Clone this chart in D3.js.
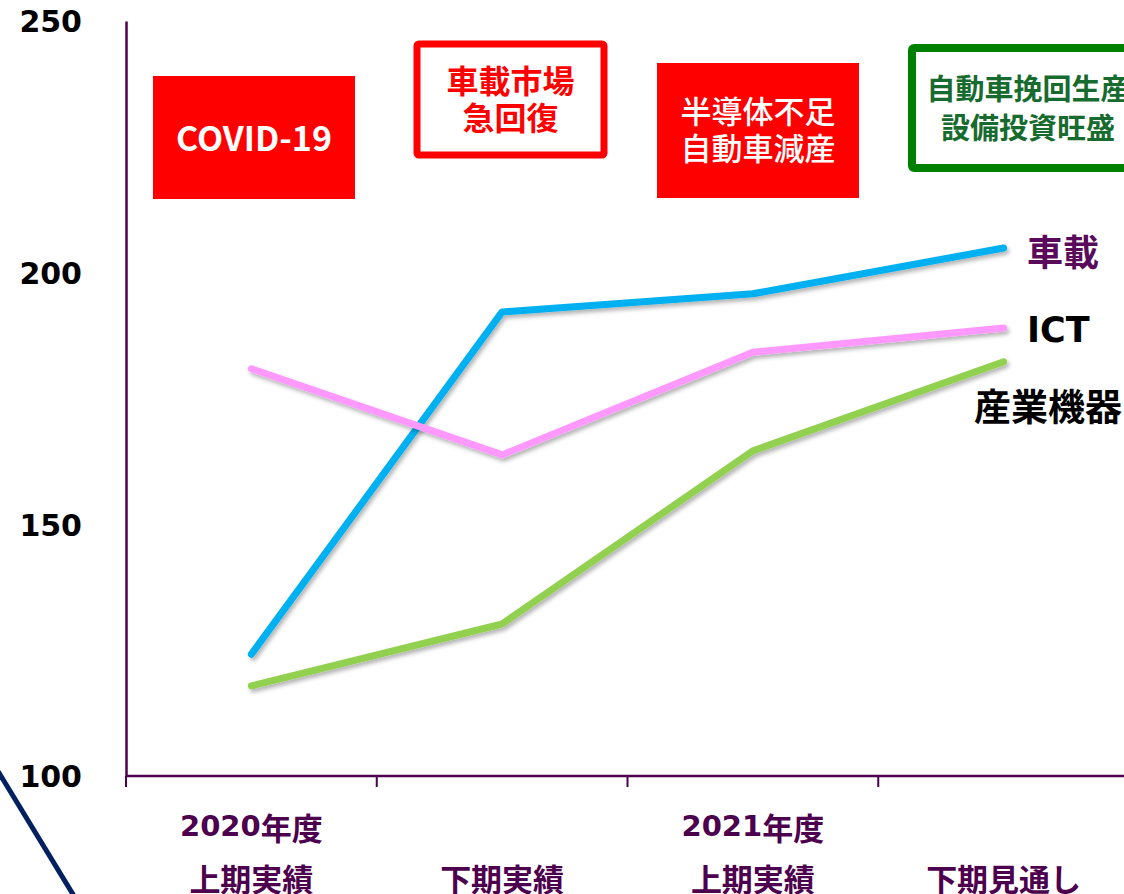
<!DOCTYPE html>
<html>
<head>
<meta charset="utf-8">
<script src="https://cdn.jsdelivr.net/npm/d3@7"></script>
<style>
  html, body { margin: 0; padding: 0; background: #fff; }
  svg { display: block; }
</style>
</head>
<body>
<svg id="chart" width="1124" height="894"></svg>
<script>
// ---- data ----
const categories = ["2020上期", "2020下期", "2021上期", "2021下期"];
const yearNumbers = ["2020", "", "2021", ""];
const yearSuffix = "年度";
const periodLabels = ["上期実績", "下期実績", "上期実績", "下期見通し"];
const seriesNames = ["車載", "ICT", "産業機器"];
const vehicleValues = [124.2, 192.2, 195.8, 204.9];
const ictValues = [180.9, 163.8, 184.2, 189.0];
const industrialValues = [117.9, 130.2, 164.6, 182.3];
const yTicks = [100, 150, 200, 250];
const annotations = [
  ["COVID-19"],
  ["車載市場", "急回復"],
  ["半導体不足", "自動車減産"],
  ["自動車挽回生産", "設備投資旺盛"]
];

// ---- layout / style ----
const svg = d3.select("#chart");
const CJK = "'Noto Sans CJK JP', 'Noto Sans', sans-serif";
const LAT = "'DejaVu Sans', Verdana, sans-serif";
const axisColor = "#4d004d";
const seriesColors = ["#00b0f0", "#ff99ff", "#92d050"];
const labelColors = ["#5a0a5a", "#000", "#000"];

const x = d3.scaleBand().domain(categories).range([126, 1129]).padding(0);
const y = d3.scaleLinear().domain([100, 250]).range([776, 21]);
const cx = c => x(c) + x.bandwidth() / 2;

// drop shadow filter
const defs = svg.append("defs");
const f = defs.append("filter").attr("id", "shadow").attr("x", "-10%").attr("y", "-10%").attr("width", "120%").attr("height", "130%");
f.append("feDropShadow").attr("dx", 2).attr("dy", 3).attr("stdDeviation", 2)
  .attr("flood-color", "#000").attr("flood-opacity", 0.3);

// decorative navy stroke bottom-left
svg.append("line").attr("x1", -4).attr("y1", 768).attr("x2", 74).attr("y2", 896)
  .attr("stroke", "#002060").attr("stroke-width", 5);

// Y axis
const yAxis = svg.append("g").attr("transform", "translate(126,0)")
  .call(d3.axisLeft(y).tickValues(yTicks).tickSize(0).tickPadding(44).tickFormat(d3.format("d")));
yAxis.select(".domain").attr("stroke", axisColor).attr("stroke-width", 2.5);
yAxis.selectAll("text").attr("font-family", LAT)
  .attr("font-weight", "bold").attr("font-size", 30).attr("fill", "#000").attr("dy", "0.36em");

// X axis
const xAxis = svg.append("g").attr("transform", "translate(0,776)")
  .call(d3.axisBottom(x).tickSize(11).tickSizeOuter(0).tickFormat(""));
xAxis.select(".domain").attr("d", "M126,0H1124").attr("stroke", axisColor).attr("stroke-width", 2.5);
xAxis.selectAll(".tick").attr("transform", d => `translate(${x(d)},0)`);
xAxis.selectAll(".tick line").attr("stroke", axisColor).attr("stroke-width", 2);

// category labels
const catG = svg.append("g").attr("font-family", CJK).attr("font-weight", "bold")
  .attr("font-size", 31).attr("fill", axisColor).attr("text-anchor", "middle");
const yearText = catG.selectAll("text.year").data(categories.filter((d, i) => yearNumbers[i])).join("text")
  .attr("class", "year")
  .attr("x", d => cx(d)).attr("y", 826).attr("dominant-baseline", "central");
yearText.append("tspan").attr("font-family", LAT).attr("font-size", 29)
  .text(d => yearNumbers[categories.indexOf(d)]);
yearText.append("tspan").text(yearSuffix);
catG.selectAll("text.period").data(categories).join("text").attr("class", "period")
  .attr("x", d => cx(d)).attr("y", 877).attr("dominant-baseline", "central")
  .text((d, i) => periodLabels[i]);

// lines
const seriesData = [vehicleValues, ictValues, industrialValues];
const line = d3.line().x((d, i) => cx(categories[i])).y(d => y(d));
svg.append("g").selectAll("path").data(seriesData).join("path")
  .attr("d", d => line(d)).attr("fill", "none")
  .attr("stroke", (d, i) => seriesColors[i]).attr("stroke-width", 7)
  .attr("stroke-linecap", "round").attr("stroke-linejoin", "round")
  .attr("filter", "url(#shadow)");

// series labels
const seriesLabelPos = [
  { x: 1027, dy: 2, anchor: "start", size: 36, font: CJK },
  { x: 1027, dy: 2, anchor: "start", size: 35, font: LAT },
  { x: 1122, dy: 43, anchor: "end", size: 37, font: CJK }
];
svg.append("g").selectAll("text").data(seriesNames).join("text")
  .attr("x", (d, i) => seriesLabelPos[i].x)
  .attr("y", (d, i) => y(seriesData[i][3]) + seriesLabelPos[i].dy)
  .attr("text-anchor", (d, i) => seriesLabelPos[i].anchor)
  .attr("dominant-baseline", "central")
  .attr("font-family", (d, i) => seriesLabelPos[i].font)
  .attr("font-weight", "bold")
  .attr("font-size", (d, i) => seriesLabelPos[i].size)
  .attr("fill", (d, i) => labelColors[i])
  .text(d => d);

// annotation boxes
const boxStyles = [
  { x: 153, y: 76, w: 202, h: 123, fill: "#ff0000", stroke: "none", sw: 0, color: "#fff", size: 34, weight: 700, cy: 136, lh: 37 },
  { x: 417, y: 44, w: 187, h: 111, fill: "#fff", stroke: "#ff0000", sw: 7, color: "#ff0000", size: 32, weight: 700, cy: 97, lh: 37 },
  { x: 657, y: 63, w: 202, h: 135, fill: "#ff0000", stroke: "none", sw: 0, color: "#fff", size: 31, weight: 500, cy: 128, lh: 37 },
  { x: 912, y: 48, w: 232, h: 120, fill: "#fff", stroke: "#008000", sw: 8, color: "#176b2e", size: 29, weight: 700, cy: 106, lh: 39 }
];
const boxG = svg.append("g").selectAll("g").data(annotations).join("g");
boxG.append("rect")
  .attr("x", (d, i) => boxStyles[i].x).attr("y", (d, i) => boxStyles[i].y)
  .attr("width", (d, i) => boxStyles[i].w).attr("height", (d, i) => boxStyles[i].h)
  .attr("rx", (d, i) => boxStyles[i].sw ? 2 : 0)
  .attr("fill", (d, i) => boxStyles[i].fill)
  .attr("stroke", (d, i) => boxStyles[i].stroke)
  .attr("stroke-width", (d, i) => boxStyles[i].sw);
boxG.each(function (lines, i) {
  const s = boxStyles[i];
  const g = d3.select(this);
  const n = lines.length;
  lines.forEach((t, k) => {
    g.append("text")
      .attr("x", s.x + s.w / 2)
      .attr("y", s.cy + (k - (n - 1) / 2) * s.lh)
      .attr("text-anchor", "middle").attr("dominant-baseline", "central")
      .attr("font-family", CJK).attr("font-weight", s.weight)
      .attr("font-size", s.size).attr("fill", s.color)
      .text(t);
  });
});
</script>
</body>
</html>
